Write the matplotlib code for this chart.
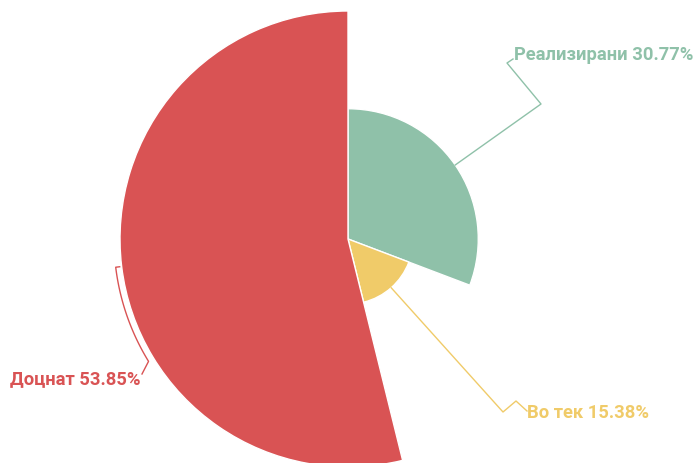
import numpy as np
import matplotlib
matplotlib.use("Agg")
import matplotlib.pyplot as plt

labels = ["Реализирани", "Во тек", "Доцнат"]
values = [30.77, 15.38, 53.85]
colors = ["#8fc1a9", "#f0cb69", "#d95354"]

W, H = 698, 464
CX, CY = 348, 240
RMAX = 228

fig = plt.figure(figsize=(W / 100, H / 100), dpi=100)
ax = fig.add_axes([0, 0, 1, 1])

wedges, _ = ax.pie(values, colors=colors, startangle=90, counterclock=False,
                   radius=RMAX, center=(0, 0), frame=True,
                   wedgeprops=dict(edgecolor="white", linewidth=1))
ax.set_xlim(-CX, W - CX)
ax.set_ylim(-(H - CY), CY)
ax.set_aspect("equal")
ax.axis("off")
vmax = max(values)
for w, v in zip(wedges, values):
    w.set_radius(RMAX * v / vmax)

def px(x, y):
    return x - CX, CY - y

total = sum(values)
start = 90.0
mids = []
for v in values:
    span = 360 * v / total
    mids.append(start - span / 2)
    start -= span

fs = 13.2
fam = ["Roboto", "DejaVu Sans"]

# green
r = RMAX * values[0] / vmax
a = np.radians(mids[0])
p0 = (r * np.cos(a), r * np.sin(a))
pts = [p0, px(541, 105), px(507, 64), px(513, 60)]
ax.plot([p[0] for p in pts], [p[1] for p in pts], color=colors[0], lw=1)
ax.text(*px(514, 55), f"{labels[0]} {values[0]:.2f}%", color=colors[0],
        fontsize=fs, fontweight="bold", family=fam, va="center", ha="left")

# yellow
r = RMAX * values[1] / vmax
a = np.radians(mids[1])
p0 = (r * np.cos(a), r * np.sin(a))
pts = [p0, px(503, 413), px(516, 402), px(527, 412)]
ax.plot([p[0] for p in pts], [p[1] for p in pts], color=colors[1], lw=1)
ax.text(*px(527, 413), f"{labels[1]} {values[1]:.2f}%", color=colors[1],
        fontsize=fs, fontweight="bold", family=fam, va="center", ha="left")

# red
r = RMAX * values[2] / vmax
a0 = mids[2]
arc_r = 234
angs = np.radians(np.linspace(a0, a0 + 24.6, 40))
xs = [(r + 2) * np.cos(np.radians(a0))] + list(arc_r * np.cos(angs))
ys = [(r + 2) * np.sin(np.radians(a0))] + list(arc_r * np.sin(angs))
end = px(142, 375)
xs.append(end[0]); ys.append(end[1])
ax.plot(xs, ys, color=colors[2], lw=1)
ax.text(*px(140, 379), f"{labels[2]} {values[2]:.2f}%", color=colors[2],
        fontsize=fs, fontweight="bold", family=fam, va="center", ha="right")

fig.savefig("out.png", dpi=100, facecolor="white")
